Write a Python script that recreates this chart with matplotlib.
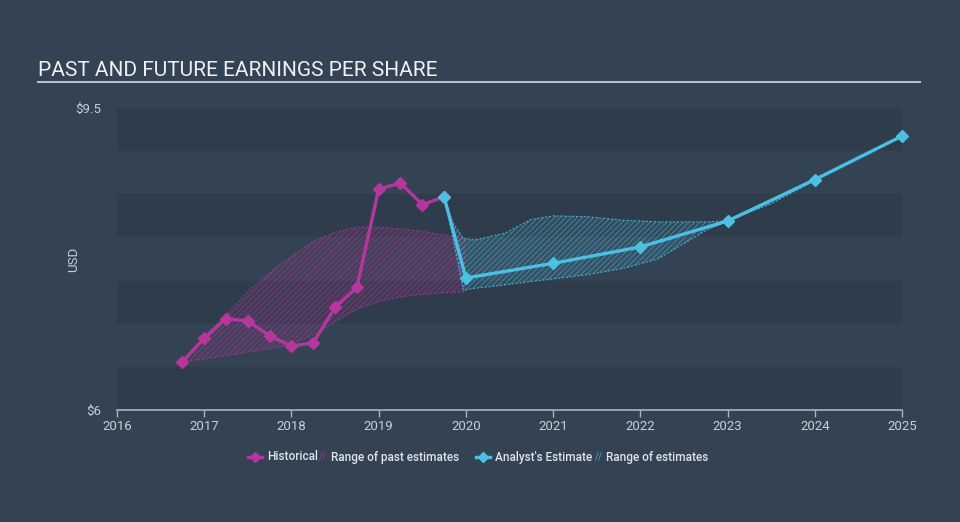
import numpy as np
import matplotlib.pyplot as plt
from matplotlib.lines import Line2D

plt.rcParams['font.family'] = ['Roboto', 'DejaVu Sans']
plt.rcParams['hatch.linewidth'] = 0.6

# historical EPS (quarterly)
hist_x = [2016.75, 2017.0, 2017.25, 2017.5, 2017.75, 2018.0, 2018.25, 2018.5, 2018.75, 2019.0, 2019.25, 2019.5, 2019.75]
hist_y = [6.56, 6.83, 7.06, 7.03, 6.86, 6.74, 6.78, 7.19, 7.42, 8.56, 8.63, 8.38, 8.47]

# range of past estimates
past_x = [2016.75, 2017.0, 2017.25, 2017.5, 2017.75, 2018.0, 2018.25, 2018.5, 2018.75, 2019.0, 2019.25, 2019.5, 2019.75, 2020.0]
past_hi = [6.56, 6.86, 7.10, 7.37, 7.59, 7.78, 7.95, 8.06, 8.12, 8.12, 8.10, 8.07, 8.03, 7.98]
past_lo = [6.56, 6.59, 6.63, 6.67, 6.71, 6.76, 6.87, 7.02, 7.17, 7.26, 7.31, 7.34, 7.36, 7.37]

# analyst estimates
est_x = [2019.75, 2020.0, 2021.0, 2022.0, 2023.0, 2024.0, 2025.0]
est_y = [8.47, 7.53, 7.70, 7.89, 8.19, 8.67, 9.175]

# range of future estimates
fut_x = [2019.75, 2019.85, 2019.97, 2020.1, 2020.45, 2020.75, 2021.0, 2021.4, 2021.8, 2022.2, 2022.45, 2022.75, 2023.0, 2023.5, 2024.0, 2025.0]
fut_hi = [8.47, 8.17, 7.99, 7.97, 8.05, 8.21, 8.25, 8.24, 8.20, 8.18, 8.18, 8.18, 8.19, 8.42, 8.67, 9.175]
fut_lo = [8.47, 8.00, 7.39, 7.41, 7.45, 7.49, 7.52, 7.57, 7.64, 7.75, 7.90, 8.08, 8.19, 8.39, 8.66, 9.175]

years = list(range(2016, 2026))

bg = '#344353'
band = '#2f3c4c'
magenta = '#b7369d'
cyan = '#4cc0e2'
txt = '#c9ced4'

fig = plt.figure(figsize=(9.6, 5.22), dpi=100, facecolor=bg)
ax = fig.add_axes([117/960, 1-410/522, 785/960, 302/522])
ax.set_facecolor(bg)
ax.set_xlim(2016, 2025)
ax.set_ylim(6, 9.5)

# alternating bands
for lo in [6.0, 7.0, 8.0, 9.0]:
    ax.axhspan(lo, lo + 0.5, color=band, lw=0, zorder=0)

# past range
ax.fill_between(past_x, past_lo, past_hi, facecolor=magenta, alpha=0.12, lw=0, zorder=1)
ax.fill_between(past_x, past_lo, past_hi, facecolor='none', edgecolor=magenta, alpha=0.55,
                hatch='//////', lw=0, zorder=1)
ax.plot(past_x, past_hi, color=magenta, lw=0.8, ls=(0, (2, 1.5)), alpha=0.7, zorder=1)
ax.plot(past_x, past_lo, color=magenta, lw=0.8, ls=(0, (2, 1.5)), alpha=0.7, zorder=1)

# future range
ax.fill_between(fut_x, fut_lo, fut_hi, facecolor=cyan, alpha=0.12, lw=0, zorder=2)
ax.fill_between(fut_x, fut_lo, fut_hi, facecolor='none', edgecolor=cyan, alpha=0.55,
                hatch='//////', lw=0, zorder=2)
ax.plot(fut_x, fut_hi, color=cyan, lw=0.8, ls=(0, (2, 1.5)), alpha=0.8, zorder=2)
ax.plot(fut_x, fut_lo, color=cyan, lw=0.8, ls=(0, (2, 1.5)), alpha=0.8, zorder=2)

ax.plot(hist_x, hist_y, color=magenta, lw=2.4, marker='D', ms=6, zorder=4, clip_on=False)
ax.plot(est_x, est_y, color=cyan, lw=2.4, marker='D', ms=6, zorder=5, clip_on=False)

for s in ['top', 'right', 'left']:
    ax.spines[s].set_visible(False)
ax.spines['bottom'].set_color('#aab2bb')
ax.spines['bottom'].set_linewidth(1.2)
ax.set_xticks(years)
ax.set_xticklabels([str(y) for y in years])
ax.set_yticks([6, 9.5])
ax.set_yticklabels(['$6', '$9.5'])
ax.tick_params(axis='x', colors='#aab2bb', labelcolor=txt, labelsize=9.5, length=5, width=1, pad=2)
ax.tick_params(axis='y', length=0, labelcolor=txt, labelsize=9.5, pad=11)
ax.set_ylabel('USD', color=txt, fontsize=9.5)
ax.yaxis.set_label_coords(-(117-80)/785, 0.5)

# title and underline
fig.text(38/960, 1-70/522, 'PAST AND FUTURE EARNINGS PER SHARE', color='#eef0f2',
         fontsize=15, va='center', ha='left')
fig.add_artist(Line2D([38/960, 920/960], [1-82/522, 1-82/522], color='#b9bfc6', lw=1.5))

# legend
ly = 1 - 457/522
fig.add_artist(Line2D([248/960, 262/960], [ly, ly], color=magenta, lw=2.4))
fig.add_artist(Line2D([255/960], [ly], color=magenta, marker='D', ms=5.5))
fig.text(267/960, ly, 'Historical', color='#dfe3e7', fontsize=8.5, va='center', fontweight='medium')
fig.text(319/960, ly, '//', color=magenta, fontsize=7, va='center', alpha=0.8)
fig.text(331/960, ly, 'Range of past estimates', color='#dfe3e7', fontsize=8.5, va='center', fontweight='medium')
fig.add_artist(Line2D([476/960, 490/960], [ly, ly], color=cyan, lw=2.4))
fig.add_artist(Line2D([483/960], [ly], color=cyan, marker='D', ms=5.5))
fig.text(495/960, ly, "Analyst's Estimate", color='#dfe3e7', fontsize=8.5, va='center', fontweight='medium')
fig.text(595/960, ly, '//', color=cyan, fontsize=7, va='center', alpha=0.8)
fig.text(606/960, ly, 'Range of estimates', color='#dfe3e7', fontsize=8.5, va='center', fontweight='medium')

fig.savefig('out.png', dpi=100, facecolor=bg)
